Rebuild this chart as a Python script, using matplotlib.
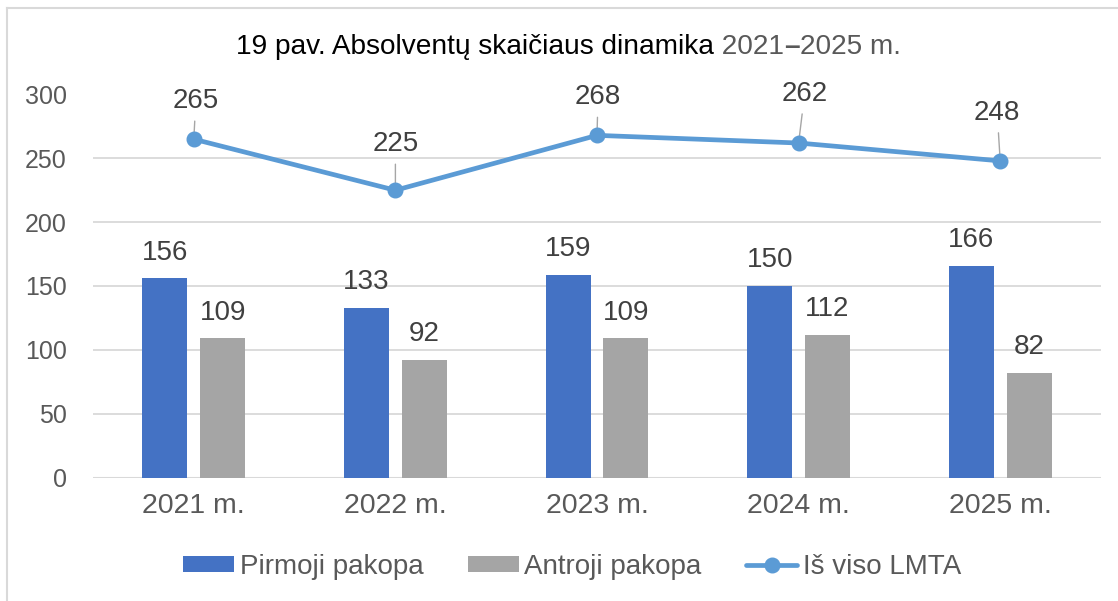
import numpy as np
import matplotlib.pyplot as plt
from matplotlib.lines import Line2D

plt.rcParams['font.family'] = ['Liberation Sans', 'DejaVu Sans']

# chart data
years = ['2021 m.', '2022 m.', '2023 m.', '2024 m.', '2025 m.']
pirmoji = [156, 133, 159, 150, 166]
antroji = [109, 92, 109, 112, 82]
is_viso = [265, 225, 268, 262, 248]

BLUE = '#4472c4'
GRAY = '#a5a5a5'
LINE = '#5b9bd5'
TXT = '#404040'
TICK = '#595959'
GRID = '#d9d9d9'

W, H = 1118, 601
fig = plt.figure(figsize=(W / 100, H / 100), dpi=100)
ax = fig.add_axes([93 / W, 1 - 477.5 / H, (1101 - 93) / W, (477.5 - 94.5) / H])

x = np.arange(len(years))
bw = 0.223
off = 0.1436

b1 = ax.bar(x - off, pirmoji, bw, color=BLUE, label='Pirmoji pakopa', zorder=2)
b2 = ax.bar(x + off, antroji, bw, color=GRAY, label='Antroji pakopa', zorder=2)
ln, = ax.plot(x, is_viso, color=LINE, lw=3.4, marker='o', markersize=10.5,
              label='Iš viso LMTA', zorder=4, solid_capstyle='round')

# bar value labels
for bars in (b1, b2):
    for r in bars:
        ax.annotate(f'{r.get_height():.0f}', (r.get_x() + r.get_width() / 2, r.get_height()),
                    xytext=(0, 13.5), textcoords='offset points', ha='center',
                    va='baseline', fontsize=20, color=TXT)

# line labels with leader lines (px offsets as placed in the original)
lab_dy = [31, 39, 31, 42, 41]
lab_dx = [2, 0, 1, 6, -3]
for i, v in enumerate(is_viso):
    ax.annotate(str(v), (x[i], v), xytext=(lab_dx[i] * 0.72, lab_dy[i] * 0.72),
                textcoords='offset points', ha='center', va='baseline',
                fontsize=20, color=TXT, annotation_clip=False,
                arrowprops=dict(arrowstyle='-', color='#a6a6a6', lw=1,
                                shrinkA=3, shrinkB=0), zorder=3)

ax.set_xlim(-0.5, 4.5)
ax.set_ylim(0, 300)
ax.set_yticks(range(0, 301, 50))
ax.set_xticks(x, years)
ax.grid(axis='y', color=GRID, lw=1.3, zorder=0)
ax.set_axisbelow(True)
for s in ax.spines.values():
    s.set_visible(False)
ax.axhline(0, color=GRID, lw=1.5, zorder=1)
ax.tick_params(axis='y', length=0, pad=19, labelsize=18, labelcolor=TICK)
ax.tick_params(axis='x', length=0, pad=11, labelsize=20.5, labelcolor=TICK)

# legend
fig.legend(handles=[b1, b2, ln], loc='center', bbox_to_anchor=(572 / W, 1 - 567 / H),
           ncol=3, frameon=False, fontsize=20, labelcolor=TICK,
           handlelength=1.84, handleheight=0.54, handletextpad=0.2,
           columnspacing=1.6, borderaxespad=0)

# title in two colours
t1 = fig.text(236 / W, 1 - 54.3 / H, '19 pav. Absolventų skaičiaus dinamika',
              ha='left', va='baseline', fontsize=20.2, color='black')
t2 = ax.annotate(' 2021', xy=(1, 0), xycoords=t1, ha='left', va='bottom',
                 fontsize=20.2, color=TICK, annotation_clip=False)
t3 = ax.annotate('–', xy=(1, 0), xycoords=t2, ha='left', va='bottom',
                 fontsize=20.2, color=TICK, fontweight='bold', annotation_clip=False)
ax.annotate('2025 m.', xy=(1, 0), xycoords=t3, ha='left', va='bottom',
            fontsize=20.2, color=TICK, annotation_clip=False)

# chart border (left and top edges visible)
fig.add_artist(Line2D([7 / W, 7 / W], [0, 1 - 8 / H], color=GRID, lw=1.5))
fig.add_artist(Line2D([7 / W, 1], [1 - 8 / H, 1 - 8 / H], color=GRID, lw=1.5))

fig.savefig('out.png', dpi=100)
